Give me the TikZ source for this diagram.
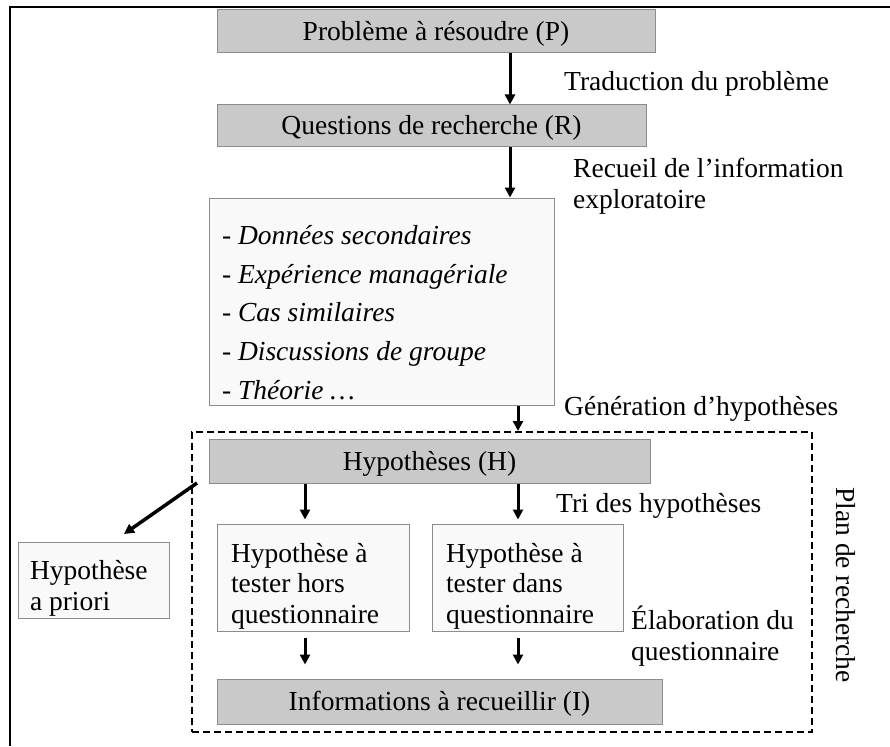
\documentclass[tikz,border=0pt]{standalone}
\usepackage{fontspec}
\setmainfont{Liberation Serif}
\usetikzlibrary{arrows.meta}
\definecolor{boxgray}{HTML}{C9C9C9}
\definecolor{boxlight}{HTML}{F9F9F9}
\definecolor{edgegray}{HTML}{8C8C8C}

\begin{document}
\begin{tikzpicture}[x=1pt,y=-1pt,
  every node/.style={font=\fontsize{27.5}{30.5}\selectfont},
  darkbox/.style={draw=edgegray,fill=boxgray,line width=1pt,inner sep=0pt,text height=19pt,text depth=1pt},
  lightbox/.style={draw=edgegray,fill=boxlight,line width=1pt,align=flush left,inner sep=0pt},
  remark/.style={inner sep=0pt,anchor=base west},
  flow/.style={line width=3pt,-{Triangle[width=10pt,length=10pt]}}
]
  \useasboundingbox (0,0) rectangle (890,746);
  \draw[line width=2pt] (890,7) -- (10,7) -- (10,746);

  \node[darkbox,minimum width=438pt,minimum height=43pt] (prob) at (436,31.5) {Problème à résoudre (P)};
  \node[darkbox,minimum width=429pt,minimum height=42pt] (quest) at (431.5,126) {Questions de recherche (R)};
  \node[lightbox,minimum width=345pt,minimum height=207pt,text width=319pt,
        font=\fontsize{27.5}{38.8}\selectfont\itshape] (explo) at (381.5,301.5)
    {\rule{0pt}{41pt}- Données secondaires\\- Expérience managériale\\- Cas similaires\\- Discussions de groupe\\- Théorie …};

  \node[draw,dashed,dash pattern=on 7pt off 4pt,line width=2pt,minimum width=620pt,minimum height=300pt,inner sep=0pt] (plan) at (502,582) {};
  \node[darkbox,minimum width=441pt,minimum height=44pt] (hyp) at (429.5,461) {Hypothèses (H)};
  \node[lightbox,minimum width=151pt,minimum height=76pt,text width=127pt] (priori) at (93.5,580) {\rule{0pt}{36pt}Hypothèse\\a priori};
  \node[lightbox,minimum width=192pt,minimum height=107pt,text width=164pt] (hq1) at (313,577.5) {\rule{0pt}{36pt}Hypothèse à\\tester hors\\questionnaire};
  \node[lightbox,minimum width=191pt,minimum height=107pt,text width=163pt] (hq2) at (527.5,577.5) {\rule{0pt}{36pt}Hypothèse à\\tester dans\\questionnaire};
  \node[darkbox,minimum width=445pt,minimum height=45pt] (info) at (439.5,701.5) {Informations à recueillir (I)};

  \node[remark] (trad) at (564,91) {Traduction du problème};
  \node[remark,anchor=north west,align=left] (recueil) at (573,158) {Recueil de l'information\\exploratoire};
  \node[remark] (gener) at (564,415) {Génération d'hypothèses};
  \node[remark] (tri) at (556,512) {Tri des hypothèses};
  \node[remark,anchor=north west,align=left] (elab) at (631,606) {Élaboration du\\questionnaire};
  \node[rotate=-90] (planlbl) at (846,585) {Plan de recherche};

  \coordinate (colM) at (510,0);
  \coordinate (colL) at (305,0);
  \coordinate (colR) at (518,0);
  \coordinate (fork) at (197,483);
  \coordinate (aim) at (124,534);

  \draw[flow] (prob.south -| colM) -- (quest.north -| colM);
  \draw[flow] (quest.south -| colM) -- (explo.north -| colM);
  \draw[flow] (explo.south -| colR) -- (plan.north -| colR);
  \draw[flow,shorten >=4pt] (hyp.south -| colL) -- (hq1.north -| colL);
  \draw[flow,shorten >=4pt] (hyp.south -| colR) -- (hq2.north -| colR);
  \draw[flow,shorten <=6pt,shorten >=14pt] (hq1.south -| colL) -- (info.north -| colL);
  \draw[flow,shorten <=6pt,shorten >=14pt] (hq2.south -| colR) -- (info.north -| colR);
  \draw[flow,line width=3.5pt] (fork) -- (aim);
\end{tikzpicture}
\end{document}
